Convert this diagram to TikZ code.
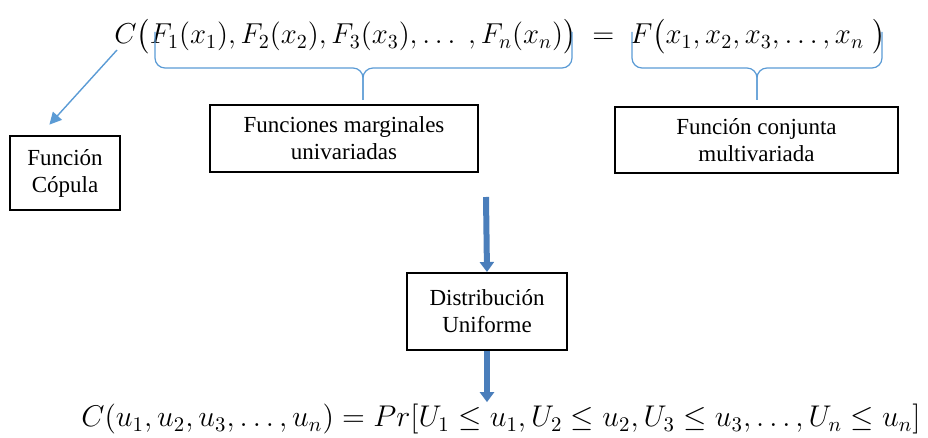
\documentclass[tikz,border=0pt]{standalone}
\usepackage{amsmath}
\usepackage{fontspec}
\setmainfont{Liberation Serif}
\usetikzlibrary{arrows.meta, positioning}
\definecolor{lightblue}{RGB}{91,155,213}
\definecolor{arrowblue}{RGB}{74,126,187}

\begin{document}
\begin{tikzpicture}[x=0.5pt, y=-0.5pt,
        box/.style={draw, line width=1pt, align=center, inner sep=2pt,
            font=\fontsize{11.5}{13.5}\selectfont},
        formula/.style={inner sep=1pt, font=\fontsize{14.4}{19}\selectfont},
        brace/.style={draw=lightblue, line width=0.6pt, rounded corners=5pt},
        thin arrow/.style={draw=lightblue, line width=0.7pt,
            -{Triangle[length=6pt, width=6pt]}},
        block arrow/.style={draw=arrowblue, line width=3pt,
            -{Triangle[length=5pt, width=7pt]}}]
    \useasboundingbox (0,0) rectangle (928,438);

    % formulas
    \node[formula, anchor=base west] (joint) at (112,44)
        {$C\bigl(F_1(x_1), F_2(x_2), F_3(x_3), \dots\;, F_n(x_n)\bigr) \;=\; F\bigl(x_1, x_2, x_3, \dots, x_n\;\bigr)$};
    \node[formula, anchor=base west] (copeq) at (79,427)
        {\scalebox{1.04}{$C(u_1, u_2, u_3, \dots, u_n) = Pr[U_1 \le u_1, U_2 \le u_2, U_3 \le u_3, \dots, U_n \le u_n]$}};

    % boxes
    \node[box, minimum width=55pt, minimum height=37pt] (cop) at (65,173) {Función\\Cópula};
    \node[box, minimum width=134pt, minimum height=33.5pt] (marg) at (344,138.5) {Funciones marginales\\univariadas};
    \node[box, minimum width=141.5pt, minimum height=33pt] (conj) at (756.5,140) {Función conjunta\\multivariada};
    \node[box, minimum width=80pt, minimum height=38.5pt] (unif) at (487,311.5) {Distribución\\Uniforme};

    % braces
    \coordinate (mtip) at (363,100);
    \coordinate (jtip) at (757,100);
    \draw[brace] (155,32) |- (363,68) -- (mtip);
    \draw[brace] (572,32) |- (363,68) -- (mtip);
    \draw[brace] (632,32) |- (757,68) -- (jtip);
    \draw[brace] (882,32) |- (757,68) -- (jtip);

    % arrows
    \coordinate (cbot) at (117,50);
    \coordinate (mstart) at (486,197);
    \draw[thin arrow, shorten >=7pt] (cbot) -- ([xshift=-12.5pt]cop.north);
    \draw[block arrow] (mstart) -- (unif.north);
    \draw[block arrow] (unif.south) -- (unif.south |- copeq.north);
\end{tikzpicture}
\end{document}
